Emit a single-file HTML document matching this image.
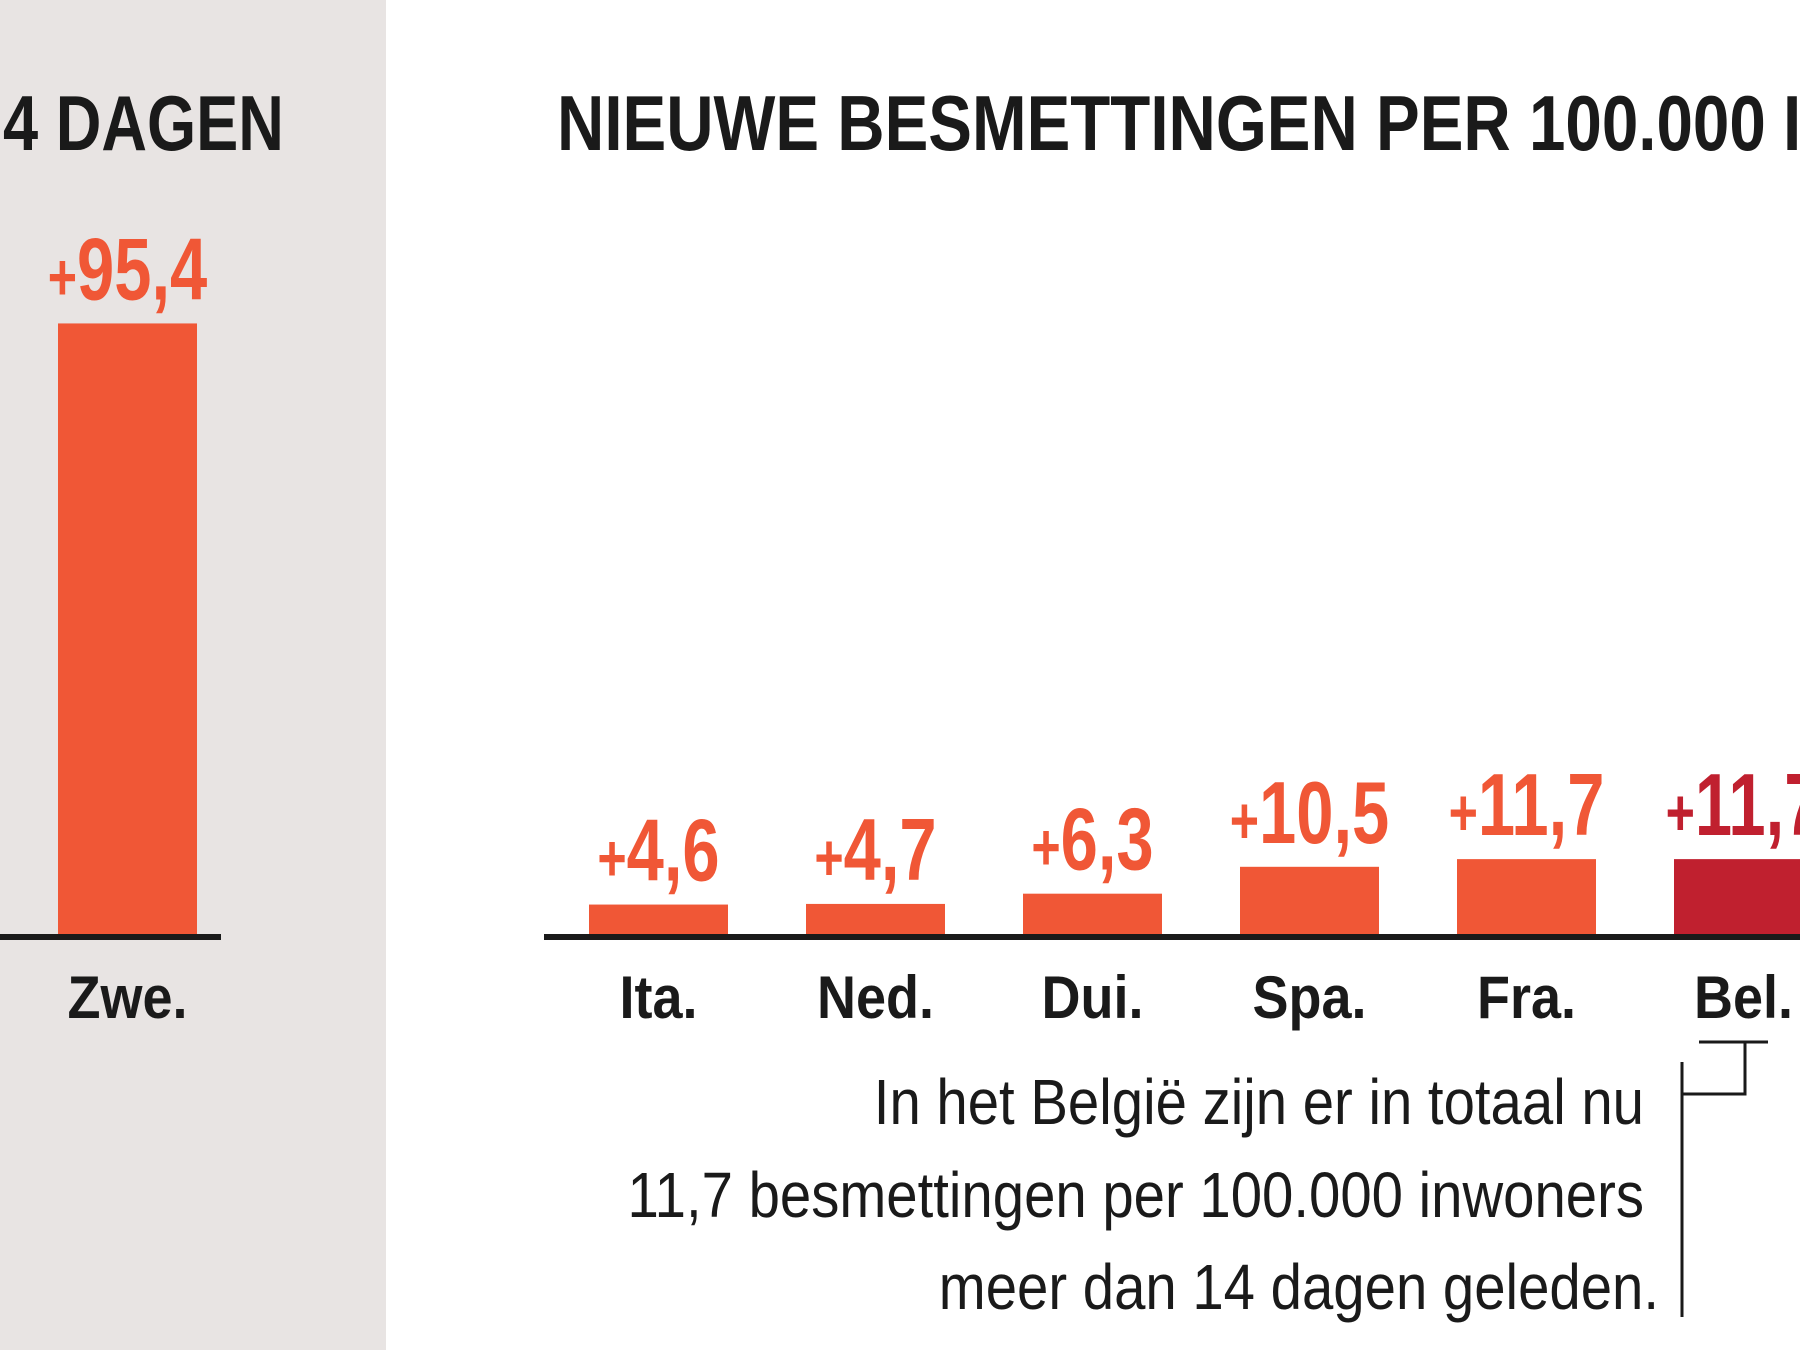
<!DOCTYPE html>
<html><head><meta charset="utf-8"><style>
html,body{margin:0;padding:0;background:#fff;}
svg{display:block;}
text{font-family:"Liberation Sans",sans-serif;}
</style></head><body>
<svg id="chart" width="1800" height="1350" viewBox="0 0 1800 1350" xmlns="http://www.w3.org/2000/svg">
<rect x="0" y="0" width="386" height="1350" fill="#e8e4e3"/>
<text id="t1" x="3" y="150" font-size="78" font-weight="bold" fill="#1a1a1a">4 DAGEN</text>
<text id="t2" x="557" y="150" font-size="78" font-weight="bold" fill="#1a1a1a">NIEUWE BESMETTINGEN PER 100.000</text>
<text id="t3" x="1783" y="150" font-size="78" font-weight="bold" fill="#1a1a1a">INWONERS</text>
<rect x="0" y="934" width="221" height="6" fill="#1a1a1a"/>
<rect x="544" y="934" width="1256" height="6" fill="#1a1a1a"/>
<g id="bars"></g>
<g id="annotation">
<text class="ann" x="1644" y="1124" text-anchor="end" font-size="64" fill="#1a1a1a">In het België zijn er in totaal nu</text>
<text class="ann" x="1644" y="1217" text-anchor="end" font-size="64" fill="#1a1a1a">11,7 besmettingen per 100.000 inwoners</text>
<text class="ann" x="1659" y="1309" text-anchor="end" font-size="64" fill="#1a1a1a">meer dan 14 dagen geleden.</text>
<path d="M1682 1062 V1317 M1682 1094 H1745 V1042 M1699 1042 H1768" stroke="#1a1a1a" stroke-width="3" fill="none"/>
</g>
</svg>
<script>
const categories = ["Zwe.","Ita.","Ned.","Dui.","Spa.","Fra.","Bel."];
const values = [95.4,4.6,4.7,6.3,10.5,11.7,11.7];
const valueLabels = ["95,4","4,6","4,7","6,3","10,5","11,7","11,7"];
const highlight = [false,false,false,false,false,false,true];

const NS="http://www.w3.org/2000/svg";
const baseY=934, pxPerUnit=6.4, barW=139;
function xPos(i){ return i===0 ? 58 : 589 + (i-1)*217; }
function yPos(v){ return baseY - v*pxPerUnit; }
function condense(el,f){ const l=el.getComputedTextLength(); el.setAttribute('textLength',(l*f).toFixed(1)); el.setAttribute('lengthAdjust','spacingAndGlyphs'); }

const g=document.getElementById('bars');
categories.forEach((c,i)=>{
  const col = highlight[i] ? "#c0202f" : "#f05736";
  const x=xPos(i), y=yPos(values[i]);
  const r=document.createElementNS(NS,'rect');
  
  
  r.setAttribute('x',x); r.setAttribute('y',y); r.setAttribute('width',barW); r.setAttribute('height',baseY-y);
  r.setAttribute('fill',col); g.appendChild(r);
  const t=document.createElementNS(NS,'text');
  
  
  t.setAttribute('x',x+barW/2); t.setAttribute('y',y-24); t.setAttribute('text-anchor','middle');
  t.setAttribute('font-size','88'); t.setAttribute('font-weight','bold'); t.setAttribute('fill',col);
  const p=document.createElementNS(NS,'tspan'); p.setAttribute('font-size','66'); p.textContent='+';
  const n=document.createElementNS(NS,'tspan'); n.textContent=valueLabels[i];
  t.appendChild(p); t.appendChild(n); g.appendChild(t); condense(t,0.76);
  const cl=document.createElementNS(NS,'text');
  
  
  cl.setAttribute('x',x+barW/2); cl.setAttribute('y',1018); cl.setAttribute('text-anchor','middle');
  cl.setAttribute('font-size','60'); cl.setAttribute('font-weight','bold'); cl.setAttribute('fill','#1a1a1a');
  cl.textContent=c; g.appendChild(cl); condense(cl,0.9);
});
document.querySelectorAll('.ann').forEach(e=>condense(e,0.88));
condense(document.getElementById('t1'),0.81);
condense(document.getElementById('t2'),0.84);
condense(document.getElementById('t3'),0.84);
</script>
</body></html>
